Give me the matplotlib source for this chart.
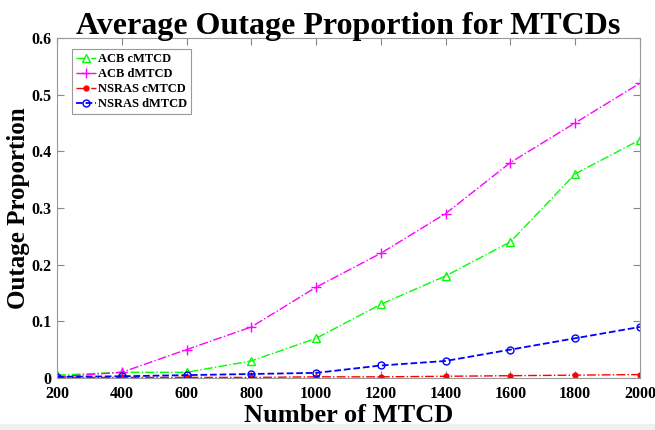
import matplotlib.pyplot as plt
from matplotlib.patches import Rectangle

plt.rcParams['font.family'] = ['Liberation Serif', 'DejaVu Serif']
plt.rcParams['font.weight'] = 'bold'

mtcd = [200, 400, 600, 800, 1000, 1200, 1400, 1600, 1800, 2000]
acb_c = [0.005, 0.01, 0.01, 0.03, 0.07, 0.13, 0.18, 0.24, 0.36, 0.42]
acb_d = [0.002, 0.01, 0.05, 0.09, 0.16, 0.22, 0.29, 0.38, 0.45, 0.52]
nsras_c = [0.001, 0.001, 0.001, 0.001, 0.002, 0.002, 0.003, 0.004, 0.005, 0.006]
nsras_d = [0.002, 0.003, 0.005, 0.007, 0.009, 0.022, 0.03, 0.05, 0.07, 0.09]

fig = plt.figure(figsize=(6.55, 4.30), dpi=100)
fig.patches.append(Rectangle((0, 0), 1, 6 / 430, transform=fig.transFigure,
                             color='#f0f0f0', zorder=0))
ax = fig.add_axes([0.087, 0.121, 0.89, 0.791])

ax.plot(mtcd, acb_c, '-.', color='#00ff00', marker='^', mfc='none', ms=5.5, lw=1.0, label='ACB cMTCD')
ax.plot(mtcd, acb_d, '-.', color='#ff00ff', marker='+', ms=7, lw=1.0, label='ACB dMTCD')
ax.plot(mtcd, nsras_c, '-.', color='#ff0000', marker='.', ms=7, lw=1.0, label='NSRAS cMTCD')
ax.plot(mtcd, nsras_d, '--', color='#0000ff', marker='o', mfc='none', ms=5, lw=1.3, label='NSRAS dMTCD')

ax.set_xlim(200, 2000)
ax.set_ylim(0, 0.6)
ax.set_xticks(mtcd)
ax.set_yticks([0, 0.1, 0.2, 0.3, 0.4, 0.5, 0.6])
ax.set_yticklabels(['0', '0.1', '0.2', '0.3', '0.4', '0.5', '0.6'])
ax.tick_params(direction='in', top=True, right=True, labelsize=11.5, color='#888888', length=5)
ax.tick_params(axis='x', pad=6)
ax.tick_params(axis='y', pad=4)
for lbl in ax.get_xticklabels() + ax.get_yticklabels():
    lbl.set_fontweight('bold')
for s in ax.spines.values():
    s.set_color('#999999')

ax.set_title('Average Outage Proportion for MTCDs', fontsize=23, fontweight='bold', pad=3)
ax.set_xlabel('Number of MTCD', fontsize=19, fontweight='bold', labelpad=1)
ax.set_ylabel('Outage Proportion', fontsize=18, fontweight='bold', labelpad=1)

leg = ax.legend(loc='upper left', fontsize=9, fancybox=False, edgecolor='#999999',
                framealpha=1, borderpad=0.3, labelspacing=0.25, handlelength=1.6,
                handletextpad=0.2, bbox_to_anchor=(0.015, 0.985))
leg.get_frame().set_linewidth(0.8)

fig.savefig('out.png', dpi=100)
